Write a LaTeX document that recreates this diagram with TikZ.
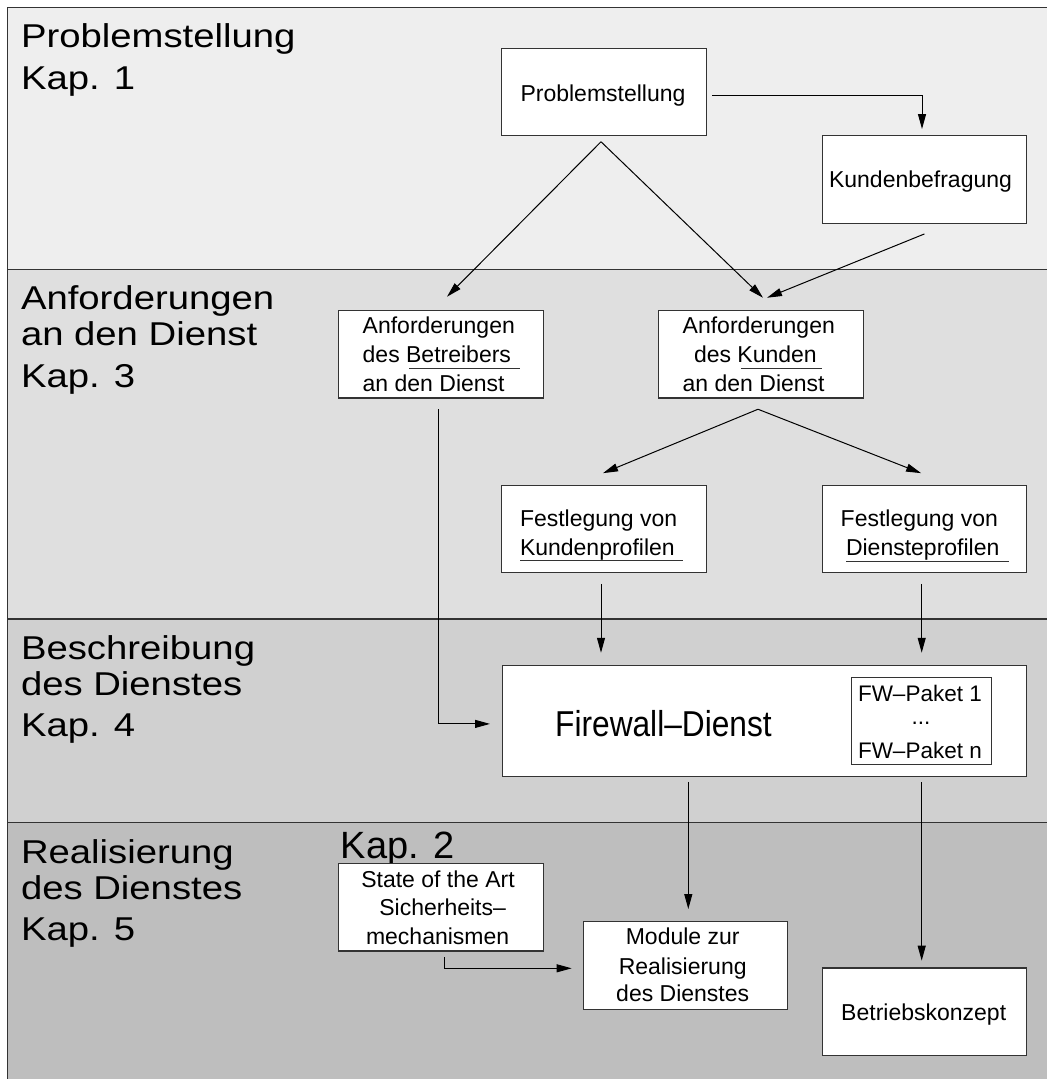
\documentclass[tikz,border=0pt]{standalone}
\usepackage{fontspec}
\setmainfont{Liberation Sans}
\newfontfamily\bandfont[FakeStretch=1.16]{Liberation Sans}
\newfontfamily\fwfont[FakeStretch=0.88]{Liberation Sans}
\usetikzlibrary{arrows.meta,calc}
\definecolor{bandA}{HTML}{EEEEEE}
\definecolor{bandB}{HTML}{DFDFDF}
\definecolor{bandC}{HTML}{D0D0D0}
\definecolor{bandD}{HTML}{BEBEBE}
\definecolor{edge}{HTML}{333333}
\tikzset{
  box/.style={draw=edge, fill=white, line width=1.1pt, inner sep=0pt, outer sep=0pt,
    minimum width=204.5pt, minimum height=87.5pt},
  conn/.style={draw=black, line width=1pt, -{Triangle[length=15pt,width=8pt]}},
  txt/.style={inner sep=0pt, outer sep=0pt, anchor=base west, font=\fontsize{23}{28.5}\selectfont},
  ctxt/.style={txt, anchor=base},
  band/.style={inner sep=0pt, outer sep=0pt, anchor=base west, font=\bandfont\fontsize{33}{36}\selectfont},
  sep/.style={draw=edge, line width=1.3pt},
  ul/.style={draw=black!80, line width=1pt},
}
\begin{document}
\begin{tikzpicture}[x=1pt,y=-1pt]
\useasboundingbox (0,0) rectangle (1047,1079);
% bands
\fill[bandA] (7.3,7.3) rectangle (1047,269.3);
\fill[bandB] (7.3,269.3) rectangle (1047,619);
\fill[bandC] (7.3,619) rectangle (1047,822.5);
\fill[bandD] (7.3,822.5) rectangle (1047,1079);
\draw[sep] (7.3,1079) -- (7.3,7.3) -- (1047,7.3);
\draw[sep] (7.3,269.3) -- (1047,269.3);
\draw[sep] (7.3,619) -- (1047,619);
\draw[sep] (7.3,822.5) -- (1047,822.5);

% band labels
\node[band] (l1a) at (21,47.8) {Problemstellung};
\node[band] (l1b) at (21,89.8) {Kap. 1};
\node[band] (l2a) at (21,309.8) {Anforderungen};
\node[band] (l2b) at (21,345.8) {an den Dienst};
\node[band] (l2c) at (21,387.8) {Kap. 3};
\node[band] (l3a) at (21,659.3) {Beschreibung};
\node[band] (l3b) at (21,695) {des Dienstes};
\node[band] (l3c) at (21,736.7) {Kap. 4};
\node[band] (l4a) at (21,863.3) {Realisierung};
\node[band] (l4b) at (21,899) {des Dienstes};
\node[band] (l4c) at (21,940) {Kap. 5};
\node[inner sep=0pt, anchor=base west, font=\fontsize{38}{40}\selectfont] (k2) at (340.7,858.3) {Kap. 2};

% boxes
\node[box] (P) at (604,92) {};
\node[box] (K) at (924.4,179.5) {};
\node[box] (AB) at (441,354.2) {};
\node[box] (AK) at (761,354.2) {};
\node[box] (FK) at (604,528.9) {};
\node[box] (FD) at (924.4,528.9) {};
\node[box, minimum width=524.4pt, minimum height=110.3pt] (FW) at (764.5,720.9) {};
\node[box, minimum width=140pt, minimum height=87pt] (FWP) at (921.7,720.8) {};
\node[box] (SA) at (441,907.2) {};
\node[box] (MR) at (685.5,965.5) {};
\node[box] (BK) at (924.5,1011.7) {};

% box texts
\node[ctxt] (tP) at (603,101) {Problemstellung};
\node[ctxt] (tK) at (920.5,187.8) {Kundenbefragung};
\node[txt] (tAB1) at (362.7,333.3) {Anforderungen};
\node[txt] (tAB2) at (362.7,362.7) {des Betreibers};
\node[txt] (tAB3) at (362.7,391) {an den Dienst};
\draw[ul] (409,368.7) -- (520,368.7);
\node[txt] (tAK1) at (682.7,333.3) {Anforderungen};
\node[txt] (tAK2) at (694,362.7) {des Kunden};
\node[txt] (tAK3) at (682.7,391) {an den Dienst};
\draw[ul] (741,368.3) -- (822,368.3);
\node[txt] (tFK1) at (520,526.7) {Festlegung von};
\node[txt] (tFK2) at (520,555) {Kundenprofilen};
\draw[ul] (520,560.7) -- (682.7,560.7);
\node[txt] (tFD1) at (840.7,526.7) {Festlegung von};
\node[txt] (tFD2) at (846,555) {Diensteprofilen};
\draw[ul] (846,561) -- (1009,561);
\node[inner sep=0pt, anchor=base west, font=\fwfont\fontsize{36}{40}\selectfont] (tFW) at (555,736) {Firewall–Dienst};
\node[txt, font=\fontsize{22.5}{28}\selectfont] (tW1) at (858,701) {FW–Paket 1};
\node[ctxt, font=\fontsize{22.5}{28}\selectfont] (tW2) at (921,724) {...};
\node[txt, font=\fontsize{22.5}{28}\selectfont] (tW3) at (858,758) {FW–Paket n};
\node[ctxt] (tSA1) at (438,887.3) {State of the Art};
\node[ctxt] (tSA2) at (442.6,915.7) {Sicherheits–};
\node[ctxt] (tSA3) at (437.6,944) {mechanismen};
\node[ctxt] (tMR1) at (682.7,944) {Module zur};
\node[ctxt] (tMR2) at (682.7,974) {Realisierung};
\node[ctxt] (tMR3) at (682.7,1001.7) {des Dienstes};
\node[ctxt] (tBK) at (923.7,1020) {Betriebskonzept};

% connectors
\draw[conn] ($(P.east)+(6,3)$) -| ($(K.north)+(-2.4,-6.7)$);
\coordinate (apex1) at ($(P.south)+(-3,6)$);
\draw[conn] (apex1) -- ($(AB.north)+(6,-13.7)$);
\draw[conn] (apex1) -- ($(AK.north)+(2,-12.7)$);
\draw[conn] ($(K.south)+(0,10.7)$) -- ($(AK.north)+(6,-12.7)$);
\coordinate (apex2) at ($(AK.south)+(-3,11.3)$);
\draw[conn] (apex2) -- ($(FK.north)+(-1,-12)$);
\draw[conn] (apex2) -- ($(FD.north)+(-3.3,-12)$);
\draw[conn] ($(AB.south)+(-3,11.3)$) |- ($(FW.west)+(-12.3,3)$);
\draw[conn] ($(FK.south)+(-3,11.3)$) -- ($(FW.north -| FK.south)+(-3,-13)$);
\draw[conn] ($(FD.south)+(-2.7,11.3)$) -- ($(FW.north -| FD.south)+(-2.7,-13)$);
\draw[conn] ($(FW.south -| MR.north)+(2.8,5.7)$) -- ($(MR.north)+(2.8,-12.7)$);
\draw[conn] ($(FW.south -| BK.north)+(-2.8,6)$) -- ($(BK.north)+(-2.8,-7.3)$);
\draw[conn] ($(SA.south)+(3,6.3)$) |- ($(MR.west)+(-11.6,2.8)$);
\end{tikzpicture}
\end{document}
